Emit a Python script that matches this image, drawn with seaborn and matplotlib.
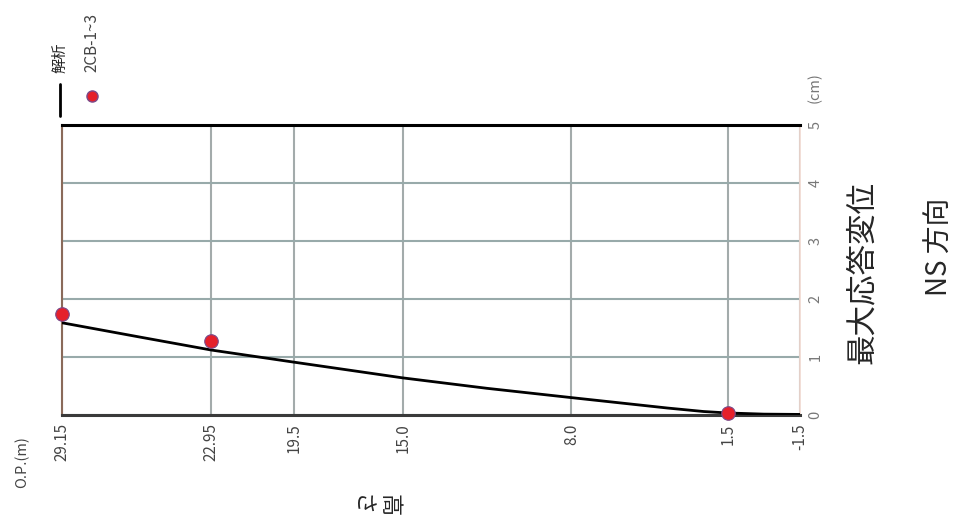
import matplotlib
matplotlib.use("Agg")
import matplotlib.pyplot as plt
from matplotlib.lines import Line2D
import seaborn as sns
import pandas as pd

# 高さ O.P.(m) と最大応答変位 (cm)
height_ticks = [29.15, 22.95, 19.5, 15.0, 8.0, 1.5, -1.5]
height_labels = ["29.15", "22.95", "19.5", "15.0", "8.0", "1.5", "-1.5"]
disp_ticks = [0, 1, 2, 3, 4, 5]

# 解析 (analysis curve)
line_height = [29.15, 26.0, 22.95, 19.5, 15.0, 11.5, 8.0, 6.0, 4.0, 2.5, 1.5, 0.0, -1.5]
line_disp = [1.59, 1.35, 1.12, 0.91, 0.64, 0.46, 0.30, 0.21, 0.12, 0.06, 0.035, 0.015, 0.01]

# 2CB-1~3 (observed)
obs_height = [29.15, 22.95, 1.5]
obs_disp = [1.74, 1.28, 0.03]

line_df = pd.DataFrame({"height": line_height, "disp": line_disp})
obs_df = pd.DataFrame({"height": obs_height, "disp": obs_disp})

sns.set_style("white")
plt.rcParams["font.family"] = ["Noto Sans CJK JP", "DejaVu Sans"]

fig = plt.figure(figsize=(9.56, 5.29), dpi=100)
ax = fig.add_axes([0.0649, 0.2155, 0.7719, 0.5482])

sns.lineplot(data=line_df, x="height", y="disp", sort=False, color="black",
             linewidth=2, ax=ax, zorder=3)
sns.scatterplot(data=obs_df, x="height", y="disp", color="#e5202b",
                edgecolor="#7a4a8a", linewidth=0.8, s=95, ax=ax, zorder=4,
                clip_on=False)

ax.set_xlim(29.15, -1.5)
ax.set_ylim(0, 5)
ax.set_xticks(height_ticks)
ax.set_xticklabels(height_labels, rotation=90, fontsize=11, color="#444444")
ax.set_yticks(disp_ticks)
ax.set_yticklabels([str(v) for v in disp_ticks], rotation=90, fontsize=10.5,
                   color="#777777", va="center")
ax.yaxis.tick_right()
ax.tick_params(axis="both", length=0, pad=6)
ax.set_xlabel("")
ax.set_ylabel("")

ax.grid(True, color="#a3abab", linewidth=1.5)
ax.yaxis.grid(True, color="#98aaaa", linewidth=1.5)
ax.set_axisbelow(True)

ax.spines["top"].set_color("black")
ax.spines["top"].set_linewidth(2.2)
ax.spines["bottom"].set_color("#3a3a3a")
ax.spines["bottom"].set_linewidth(2.2)
ax.spines["left"].set_color("#8a6a5a")
ax.spines["left"].set_linewidth(1.5)
ax.spines["right"].set_color("#f0d8d0")
ax.spines["right"].set_linewidth(1.2)

# axis labels and titles (rotated like the reference)
fig.text(22 / 956, 1 - 462 / 529, "O.P.(m)", rotation=90, fontsize=10.5,
         color="#444444", ha="center", va="center")
fig.text(815 / 956, 1 - 88 / 529, "(cm)", rotation=90, fontsize=10.5,
         color="#777777", ha="center", va="center")
fig.text(375 / 956, 1 - 505 / 529, "高\nさ", rotation=-90, fontsize=16,
         ha="center", va="center", linespacing=1.3)
fig.text(862 / 956, 1 - 272 / 529, "最大応答変位", rotation=90, fontsize=22,
         ha="center", va="center")
fig.text(940 / 956, 1 - 247 / 529, "NS 方向", rotation=90, fontsize=20,
         ha="center", va="center")

# legend (rotated)
fig.add_artist(Line2D([60 / 956, 60 / 956], [1 - 116 / 529, 1 - 84 / 529],
                      color="black", linewidth=2, transform=fig.transFigure))
fig.text(60 / 956, 1 - 58 / 529, "解析", rotation=90, fontsize=11,
         ha="center", va="center")
fig.add_artist(Line2D([92 / 956], [1 - 96 / 529], marker="o", markersize=8,
                      markerfacecolor="#e5202b", markeredgecolor="#7a4a8a",
                      linestyle="none", transform=fig.transFigure))
fig.text(92 / 956, 1 - 43 / 529, "2CB-1~3", rotation=90, fontsize=11,
         color="#444444", ha="center", va="center")

fig.savefig("out.png", dpi=100)
